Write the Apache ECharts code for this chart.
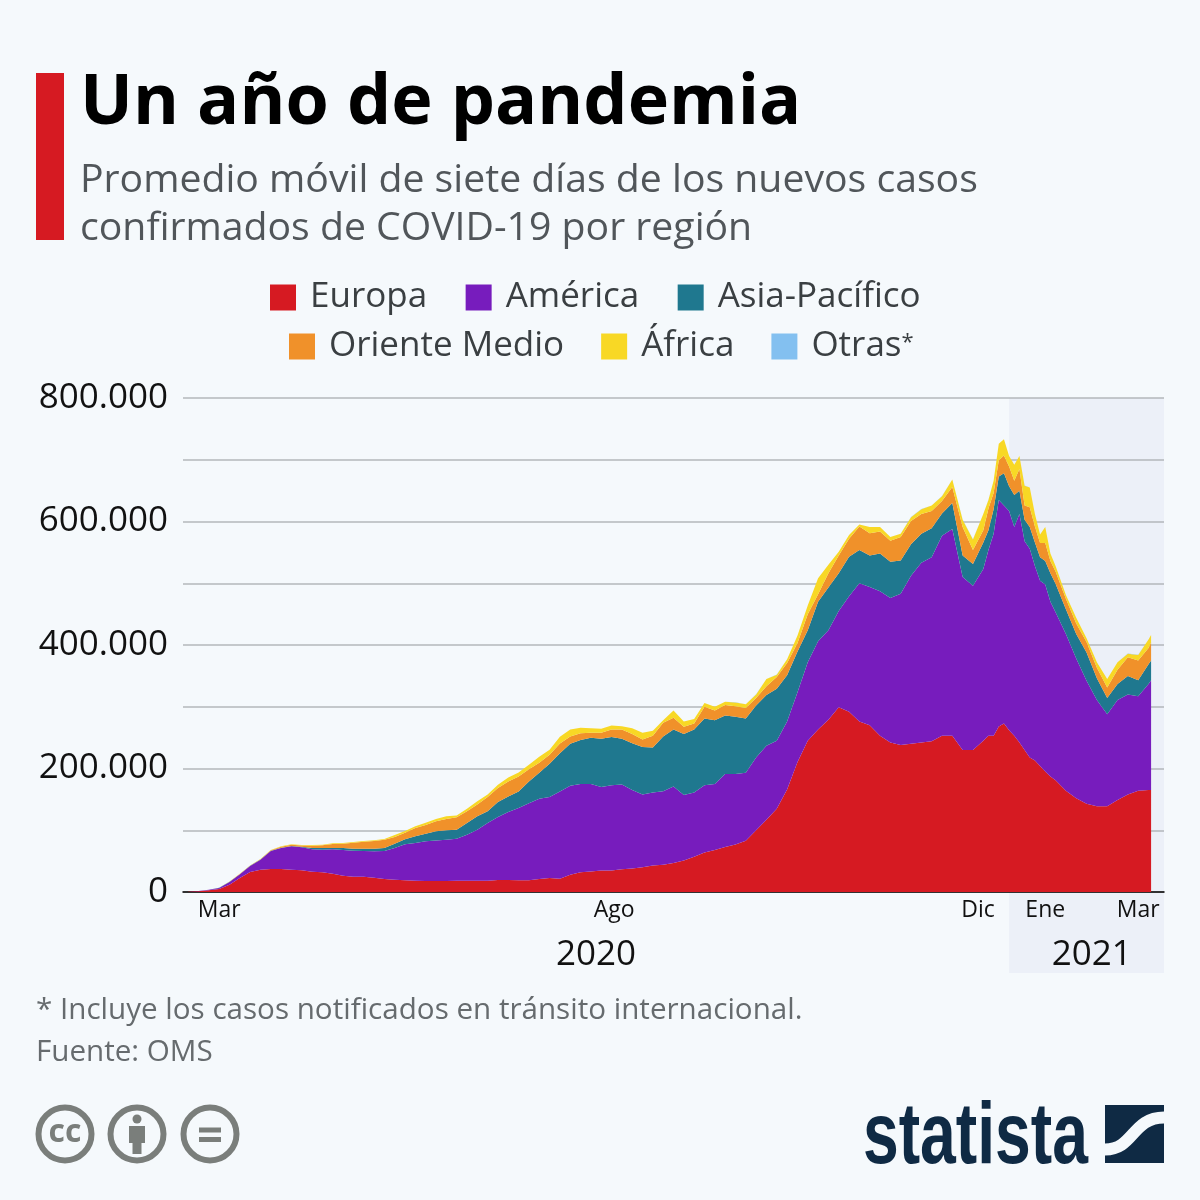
<!DOCTYPE html>
<html>
<head>
<meta charset="utf-8">
<style>html,body{margin:0;padding:0;background:#f5f9fc}#c{width:1200px;height:1200px}</style>
<script src="https://cdn.jsdelivr.net/npm/echarts@6/dist/echarts.min.js"></script>
</head>
<body>
<div id="c"></div>
<script>
// days counted from 1 Mar 2020, values in thousands of new cases
var days = [-12,-8,-4,0,4,8,12,16,20,24,
  28,32,36,40,44,48,52,56,60,64,
  68,72,76,80,84,88,92,96,100,104,
  108,112,116,120,124,128,132,136,140,144,
  148,152,156,160,164,168,172,176,180,184,
  188,192,196,200,204,208,212,216,220,224,
  228,232,236,240,244,248,252,256,260,264,
  268,272,276,280,284,288,292,296,
  298,300,302,304,306,308,310,312,314,316,318,320,322,
  324,328,332,336,340,344,348,352,356,360,
  361];
var europa = [.3,1.2,2.7,4.9,11.9,22.7,32.4,36.2,37.3,37.3,
  36.2,35.1,32.9,31.9,29.7,26.5,24.8,24.8,23.2,21,
  20,18.9,18.4,17.8,17.8,17.8,18.4,18.4,18.4,18.4,
  19.4,19.4,18.9,18.9,21,22.7,21.6,28,32,33,
  35,35,37,38,40,43,44,47,51,57,
  64,68,73,77,83,100,117,135,166,210,
  245,263,279,299,292,276,270,253,242,238,
  240,242,244,253,253,230,230,245,
  253,253,268,273,262,253,242,230,218,213,204,195,187,
  181,164,152,143,139,139,149,158,164,165,
  165];
var america = [.1,.3,.8,1.6,4.3,5.9,9.7,16.2,29.2,34,
  37.8,37.3,36.2,36.7,39.4,41.6,42.1,41.6,42.7,45.4,
  51.3,58.3,61,64.3,65.4,67,68,74.5,82.6,93.4,
  102,110,117,125,130,131,141,144,143,142,
  135,138,137,127,118,118,119,124,106,104,
  109,107,118,114,110,118,120,110,110,113,
  127,143,145,156,187,224,224,234,234,245,
  272,291,298,324,335,280,266,278,
  301,327,367,353,355,338,370,338,338,315,300,303,283,
  272,254,226,199,172,149,162,162,153,172,
  178];
var asia = [0,.1,.2,.2,.3,.3,.3,.3,.4,.5,
  .6,1,2.2,2.7,2.2,3.2,3.2,3.8,4.3,4.9,
  7,8.1,10.8,12.4,15.1,15.1,14.6,18.9,21.6,18.9,
  24.3,25.4,27,35,42,54,62,68,71,75,
  78,78,74,76,77,73,89,92,99,102,
  108,103,95,93,88,84,82,84,75,66,
  52,64,69,61,64,54,51,61,59,54,
  51,47,47,36,42,35,35,43,
  32,40,38,52,40,52,38,35,35,38,38,38,46,
  46,40,40,46,35,26,26,30,26,32,
  32];
var orienteMedio = [0,0,.1,.1,.3,.3,.4,.5,.8,1.5,
  2,2,3.8,4.3,6.5,7,9.7,11.3,12.4,13.5,
  10.8,10.8,13.5,14,16.2,18.4,20,18.9,18.9,23.2,
  22.7,24.3,24.3,20,16.2,14.6,16,12,11,8,
  10,12,15,15,12,19,22,19,11.6,10,
  19,16,17,17,17,12,14,19,20,14,
  26,12,23,29,29,38,36,36,34,38,
  38,32,28,20,26,46,23,20,
  35,26,26,29,32,23,35,23,32,26,23,29,20,
  20,17,17,17,17,17,23,30,32,26,
  29];
var africa = [0,0,0,.1,.1,.2,.2,.3,.4,.6,
  .6,.6,1,1,1,1,1,1.1,1.1,1.1,
  3.2,2.7,2.7,3.8,3.8,4.3,3,4.3,5.4,3.8,
  5.4,6.5,6.5,7,9.7,8.1,11,11,9,7,
  6.5,6.5,5.4,9,11,8,4,12,8.7,7,
  6,6,5,6,6,6,12,4,6,12,
  14,26,14,6,6,3,10,7,6,5,
  6,8,9,8,12,12,17,26,
  14,20,27,26,17,26,21,32,32,20,14,26,12,
  9,6,9,6,9,14,12,6,9,14,
  12];
var otras = [0,0,0,0,0,0,0,0,0,0,
  0,0,0,0,0,0,0,0,0,0,
  0,0,0,0,0,0,0,0,0,0,
  0,0,0,0,0,0,0,0,0,0,
  0,0,0,0,0,0,0,0,0,0,
  .1,.1,.1,.1,.1,.1,.1,.1,.1,.1,
  .1,.1,.1,.1,.1,.1,.1,.1,.1,.1,
  .1,.1,.1,.1,.1,.1,.1,.1,
  .1,.1,.1,.1,.1,.1,.1,.1,.1,.1,.1,.1,.1,
  .1,.1,.1,.1,.1,.1,.1,.1,.1,.1,
  .1];
var monthTicks = [0,153,294,320,356];
var monthLabels = ['Mar','Ago','Dic','Ene','Mar'];
var yearTicks = [146,338];
var yearLabels = ['2020','2021'];
var yTicks = [0,200,400,600,800];
var yLabels = ['0','200.000','400.000','600.000','800.000'];

var font = '"Open Sans"';
var grey = '#7a7e7b';
var navy = '#0f2a44';
var bg = '#f5f9fc';

// one category per day, from 14 days before March to a year later
var firstDay = -14, lastDay = 366;
var dayAxis = [];
for (var d = firstDay; d <= lastDay; d++) dayAxis.push(String(d));

function pairs(vals){
  return vals.map(function(v,i){ return [String(days[i]),v]; });
}
function area(name,vals,color){
  return {
    name:name,
    type:'line',
    stack:'casos',
    data:pairs(vals),
    showSymbol:false,
    symbol:'none',
    lineStyle:{width:0},
    areaStyle:{color:color,opacity:1},
    itemStyle:{color:color},
    animation:false
  };
}
function legendRow(names,left,top,gap){
  return {
    left:left,
    top:top,
    itemWidth:26,
    itemHeight:26,
    itemGap:gap,
    icon:'rect',
    selectedMode:false,
    data:names,
    formatter:function(n){ return n==='Otras*' ? 'Otras{s|*}' : n; },
    textStyle:{fontFamily:font,fontSize:35,color:'#3a3f42',padding:[0,0,0,9],
      rich:{s:{fontFamily:font,fontSize:22,color:'#3a3f42',padding:[0,0,8,0]}}}
  };
}
function tickAxis(ticks,labels,opt){
  return Object.assign({
    type:'category',
    data:dayAxis,
    boundaryGap:false,
    position:'bottom',
    axisLine:{show:false},
    axisTick:{show:false},
    splitLine:{show:false},
    axisLabel:{interval:function(i,v){ return ticks.indexOf(Number(v))>=0; },
      hideOverlap:false,
      fontFamily:font,color:'#111',
      formatter:function(v){ return labels[ticks.indexOf(Number(v))]; }}
  },opt);
}

var chart = echarts.init(document.getElementById('c'),null,{renderer:'canvas'});
var monthAxis = tickAxis(monthTicks,monthLabels,{axisLine:{show:true,onZero:false,lineStyle:{color:'#000',width:1.5}}});
monthAxis.axisLabel.margin = 7;
monthAxis.axisLabel.fontSize = 23;
var yearAxis = tickAxis(yearTicks,yearLabels,{offset:46});
yearAxis.axisLabel.margin = 0;
yearAxis.axisLabel.fontSize = 35;

chart.setOption({
  animation:false,
  backgroundColor:bg,
  title:[
    {text:'Un año de pandemia',left:75,top:64,textStyle:{fontFamily:font,fontWeight:'bold',fontSize:70,color:'#000'}},
    {text:'Promedio móvil de siete días de los nuevos casos\nconfirmados de COVID-19 por región',left:75,top:152,
      textStyle:{fontFamily:font,fontWeight:'normal',fontSize:39.2,lineHeight:48,color:'#51565a'}},
    {text:'* Incluye los casos notificados en tránsito internacional.\nFuente: OMS',left:31,top:985,
      textStyle:{fontFamily:font,fontWeight:'normal',fontSize:29.6,lineHeight:42,color:'#666b6e'}}
  ],
  legend:[
    legendRow(['Europa','América','Asia-Pacífico'],265,275,38.5),
    legendRow(['Oriente Medio','África','Otras*'],284,324,37)
  ],
  grid:{left:183,right:36,top:398,height:494,containLabel:false},
  xAxis:[monthAxis,yearAxis],
  yAxis:{type:'value',min:0,max:800,interval:100,
    axisLine:{show:false},
    axisTick:{show:false},
    splitLine:{lineStyle:{color:'#b3b7bb',width:1.5}},
    axisLabel:{margin:15,padding:[8,0,0,0],fontFamily:font,fontSize:35,color:'#111',
      formatter:function(v){var k=yTicks.indexOf(v);return k<0?'':yLabels[k];}}},
  series:[
    area('Europa',europa,'#d61a22'),
    area('América',america,'#771cbd'),
    area('Asia-Pacífico',asia,'#1f788f'),
    area('Oriente Medio',orienteMedio,'#f0912a'),
    area('África',africa,'#f8d825'),
    area('Otras*',otras,'#83c0f0')
  ]
});

// 2021 band sits behind the plot and runs down past the axis
var bandLeft = chart.convertToPixel({xAxisIndex:0},'306');
var bandRight = chart.convertToPixel({xAxisIndex:0},String(lastDay));
function ring(cx){
  return {type:'circle',shape:{cx:cx,cy:1134,r:26.5},style:{fill:'none',stroke:grey,lineWidth:6}};
}
function box(x,y,w,h,fill,z){
  return {type:'rect',shape:{x:x,y:y,width:w,height:h},style:{fill:fill},z:z||10};
}
chart.setOption({
  graphic:{elements:[
    box(bandLeft,398,bandRight-bandLeft,575,'#ecf0f8',-1),
    box(36,73,28,167,'#d61a22'),
    ring(65),ring(137),ring(210),
    {type:'text',style:{text:'cc',x:65,y:1133,align:'center',verticalAlign:'middle',fontFamily:font,fontWeight:'bold',fontSize:32,fill:grey}},
    {type:'circle',shape:{cx:137,cy:1119,r:4.5},style:{fill:grey}},
    box(129,1126,16,17,grey),
    box(132.5,1140,9,14,grey),
    box(199,1127.5,22,5,grey),
    box(199,1137,22,5,grey),
    {type:'text',x:863,y:1183,scaleX:0.73,style:{text:'statista',x:0,y:0,align:'left',verticalAlign:'bottom',
      fontFamily:'"Liberation Sans"',fontWeight:'bold',fontSize:88,fill:navy}},
    box(1105,1105,59,58,navy),
    {type:'bezierCurve',shape:{x1:1105,y1:1149.5,cpx1:1134,cpy1:1149.5,cpx2:1132,cpy2:1117.5,x2:1164,y2:1117.5},
      style:{fill:'none',stroke:bg,lineWidth:12},z:11}
  ]}
});
</script>
</body>
</html>
